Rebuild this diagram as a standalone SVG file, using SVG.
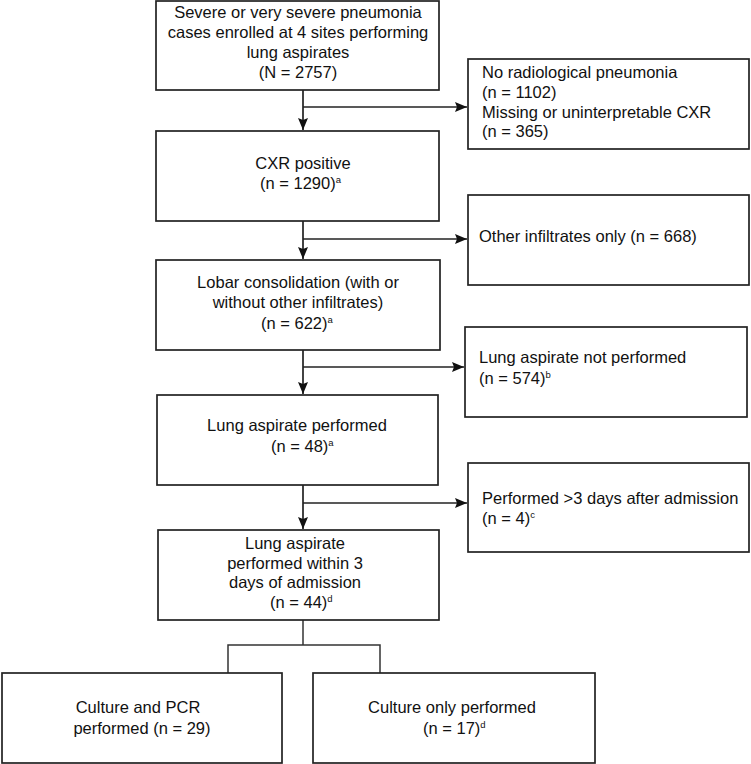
<svg xmlns="http://www.w3.org/2000/svg" width="751" height="764" viewBox="0 0 751 764">
<defs>
<style>
.box{fill:#fff;stroke:#222;stroke-width:1.7}
.t{font-family:"Liberation Sans",Arial,sans-serif;font-size:16.5px;fill:#111}
.c{text-anchor:middle}
.sup{font-size:9.5px}
.ln{fill:none;stroke:#222;stroke-width:1.7}
.ln2{fill:none;stroke:#333;stroke-width:1.5}
</style>
<marker id="ah" markerUnits="userSpaceOnUse" markerWidth="13" markerHeight="11" refX="12" refY="5.5" orient="auto">
<path d="M0,0.5 L12,5.5 L0,10.5 L2,5.5 z" fill="#111"/>
</marker>
</defs>
<rect width="751" height="764" fill="#fff"/>
<g id="connectors">
<line class="ln" x1="303" y1="90" x2="303" y2="130" marker-end="url(#ah)"/>
<line class="ln" x1="303" y1="107" x2="467" y2="107" marker-end="url(#ah)"/>
<line class="ln" x1="303" y1="221" x2="303" y2="259" marker-end="url(#ah)"/>
<line class="ln" x1="303" y1="239" x2="467" y2="239" marker-end="url(#ah)"/>
<line class="ln" x1="303" y1="350" x2="303" y2="394" marker-end="url(#ah)"/>
<line class="ln" x1="303" y1="367" x2="464" y2="367" marker-end="url(#ah)"/>
<line class="ln" x1="303" y1="485" x2="303" y2="529" marker-end="url(#ah)"/>
<line class="ln" x1="303" y1="503" x2="467" y2="503" marker-end="url(#ah)"/>
<polyline class="ln2" points="303,620 303,645"/>
<polyline class="ln2" points="228,673 228,645 380,645 380,673"/>
</g>
<g id="n1">
<rect class="box" x="156" y="1" width="283" height="89"/>
<text class="t c" x="298" y="18">Severe or very severe pneumonia</text>
<text class="t c" x="298" y="38">cases enrolled at 4 sites performing</text>
<text class="t c" x="298" y="58">lung aspirates</text>
<text class="t c" x="298" y="78">(N = 2757)</text>
</g>
<g id="n2">
<rect class="box" x="468" y="59" width="281" height="90"/>
<text class="t" x="482" y="78">No radiological pneumonia</text>
<text class="t" x="482" y="98">(n = 1102)</text>
<text class="t" x="482" y="118">Missing or uninterpretable CXR</text>
<text class="t" x="482" y="137">(n = 365)</text>
</g>
<g id="n3">
<rect class="box" x="156" y="131" width="283" height="90"/>
<text class="t c" x="303" y="169">CXR positive</text>
<text class="t" x="260" y="189">(n = 1290)<tspan class="sup" dy="-6">a</tspan></text>
</g>
<g id="n4">
<rect class="box" x="468" y="195" width="281" height="90"/>
<text class="t" x="479" y="242">Other infiltrates only (n = 668)</text>
</g>
<g id="n5">
<rect class="box" x="156" y="260" width="284" height="90"/>
<text class="t c" x="298" y="288">Lobar consolidation (with or</text>
<text class="t c" x="298" y="308">without other infiltrates)</text>
<text class="t" x="261" y="329">(n = 622)<tspan class="sup" dy="-6">a</tspan></text>
</g>
<g id="n6">
<rect class="box" x="465" y="327" width="282" height="90"/>
<text class="t" x="479" y="363">Lung aspirate not performed</text>
<text class="t" x="479" y="384">(n = 574)<tspan class="sup" dy="-6">b</tspan></text>
</g>
<g id="n7">
<rect class="box" x="157" y="395" width="281" height="90"/>
<text class="t c" x="297" y="431">Lung aspirate performed</text>
<text class="t" x="271" y="452">(n = 48)<tspan class="sup" dy="-6">a</tspan></text>
</g>
<g id="n8">
<rect class="box" x="468" y="463" width="281" height="89"/>
<text class="t" x="482" y="504">Performed &gt;3 days after admission</text>
<text class="t" x="482" y="524">(n = 4)<tspan class="sup" dy="-6">c</tspan></text>
</g>
<g id="n9">
<rect class="box" x="158" y="530" width="281" height="90"/>
<text class="t c" x="295" y="549">Lung aspirate</text>
<text class="t c" x="295" y="569">performed within 3</text>
<text class="t c" x="295" y="588">days of admission</text>
<text class="t" x="270" y="608">(n = 44)<tspan class="sup" dy="-6">d</tspan></text>
</g>
<g id="n10">
<rect class="box" x="2" y="673" width="280" height="90"/>
<text class="t c" x="138" y="713">Culture and PCR</text>
<text class="t c" x="142" y="734">performed (n = 29)</text>
</g>
<g id="n11">
<rect class="box" x="313" y="673" width="282" height="90"/>
<text class="t c" x="452" y="713">Culture only performed</text>
<text class="t" x="423" y="734">(n = 17)<tspan class="sup" dy="-6">d</tspan></text>
</g>
</svg>
